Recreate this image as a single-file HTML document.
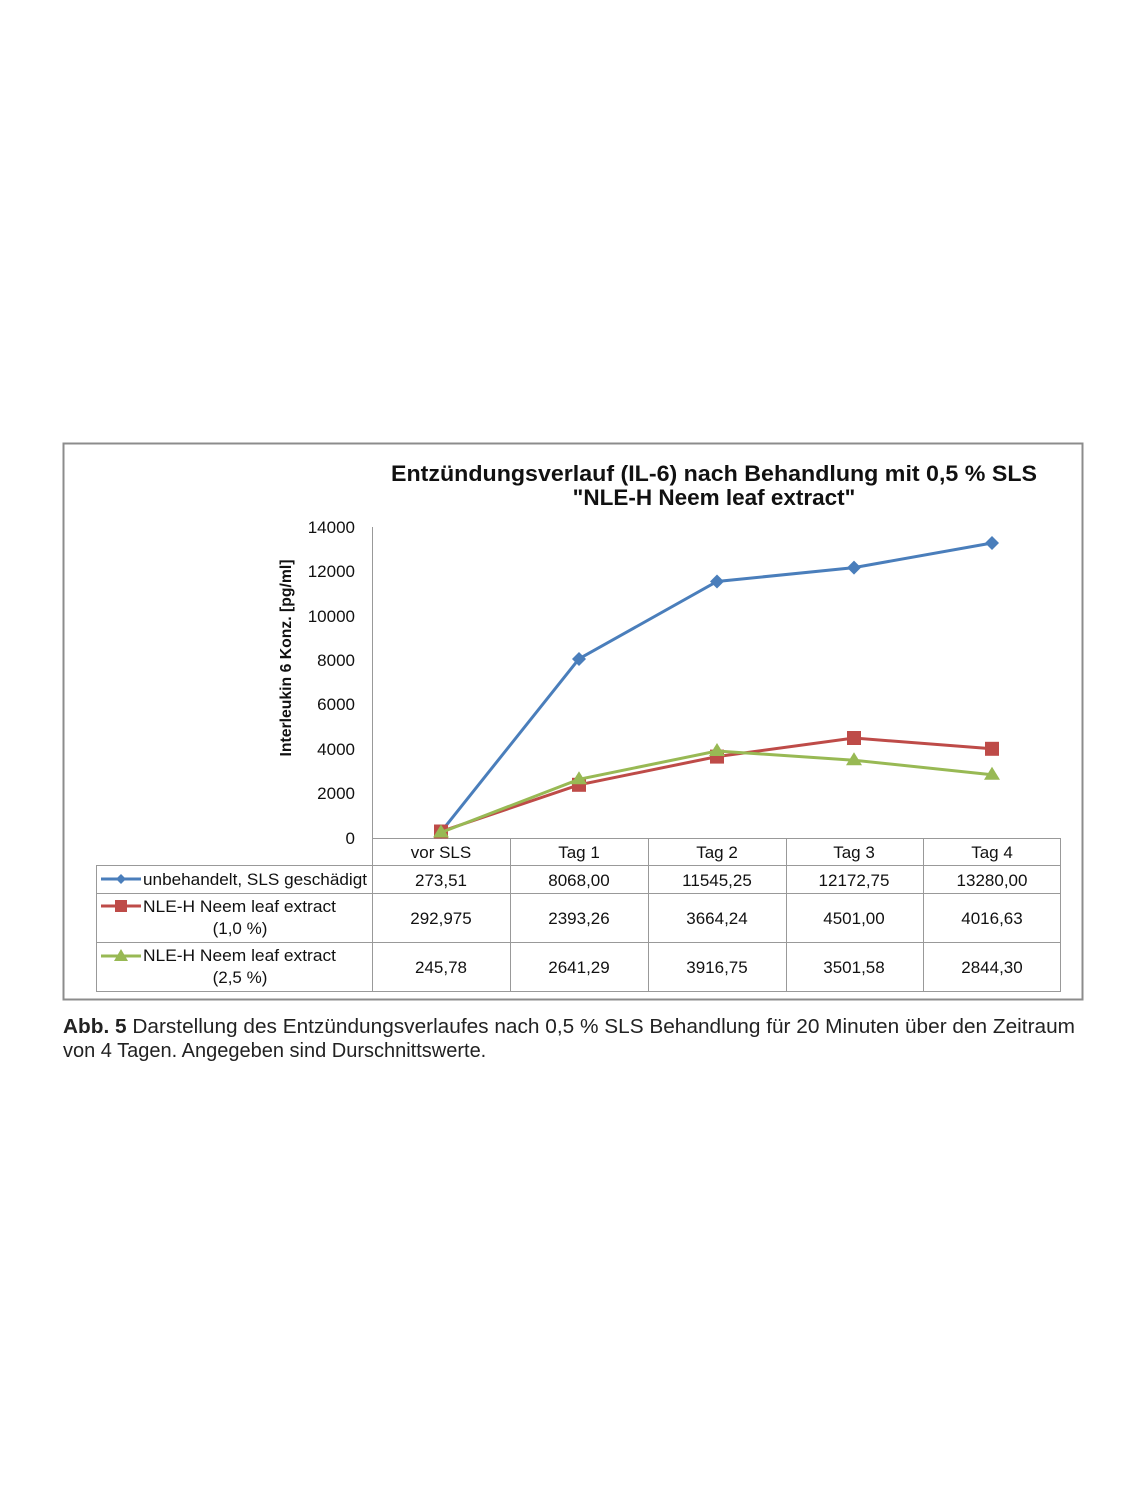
<!DOCTYPE html>
<html><head><meta charset="utf-8"><style>html,body{margin:0;padding:0;background:#fff}svg{display:block}</style></head>
<body>
<svg width="1146" height="1500" viewBox="0 0 1146 1500" xmlns="http://www.w3.org/2000/svg" font-family="Liberation Sans, sans-serif">
<rect x="0" y="0" width="1146" height="1500" fill="#fff"/>
<rect x="63.5" y="443.5" width="1019" height="556" fill="#fff" stroke="#8c8c8c" stroke-width="2"/>
<text x="714" y="481" font-size="22" font-weight="bold" text-anchor="middle" fill="#111" textLength="646" lengthAdjust="spacingAndGlyphs">Entzündungsverlauf (IL-6) nach Behandlung mit 0,5 % SLS</text>
<text x="714" y="505" font-size="22.5" font-weight="bold" text-anchor="middle" fill="#111">"NLE-H Neem leaf extract"</text>
<text transform="translate(291,658) rotate(-90)" font-size="16" font-weight="bold" text-anchor="middle" fill="#111" textLength="197" lengthAdjust="spacingAndGlyphs">Interleukin 6 Konz. [pg/ml]</text>
<g font-size="17" text-anchor="end" fill="#111">
<text x="355" y="533">14000</text><text x="355" y="577">12000</text><text x="355" y="622">10000</text>
<text x="355" y="666">8000</text><text x="355" y="710">6000</text><text x="355" y="755">4000</text>
<text x="355" y="799">2000</text><text x="355" y="844">0</text>
</g>
<line x1="372.5" y1="527" x2="372.5" y2="991" stroke="#999" stroke-width="1"/>
<g stroke="#999" stroke-width="1" fill="none">
<line x1="372" y1="838.5" x2="1061" y2="838.5"/>
<line x1="96" y1="865.5" x2="1061" y2="865.5"/>
<line x1="96" y1="893.5" x2="1061" y2="893.5"/>
<line x1="96" y1="942.5" x2="1061" y2="942.5"/>
<line x1="96" y1="991.5" x2="1061" y2="991.5"/>
<line x1="96.5" y1="865" x2="96.5" y2="991"/>
<line x1="510.5" y1="838" x2="510.5" y2="991"/>
<line x1="648.5" y1="838" x2="648.5" y2="991"/>
<line x1="786.5" y1="838" x2="786.5" y2="991"/>
<line x1="923.5" y1="838" x2="923.5" y2="991"/>
<line x1="1060.5" y1="838" x2="1060.5" y2="991"/>
</g>
<g font-size="17" text-anchor="middle" fill="#111">
<text x="441" y="858">vor SLS</text><text x="579" y="858">Tag 1</text><text x="717" y="858">Tag 2</text><text x="854" y="858">Tag 3</text><text x="992" y="858">Tag 4</text>
<text x="441" y="886">273,51</text><text x="579" y="886">8068,00</text><text x="717" y="886">11545,25</text><text x="854" y="886">12172,75</text><text x="992" y="886">13280,00</text>
<text x="441" y="924">292,975</text><text x="579" y="924">2393,26</text><text x="717" y="924">3664,24</text><text x="854" y="924">4501,00</text><text x="992" y="924">4016,63</text>
<text x="441" y="973">245,78</text><text x="579" y="973">2641,29</text><text x="717" y="973">3916,75</text><text x="854" y="973">3501,58</text><text x="992" y="973">2844,30</text>
<text x="240" y="934">(1,0 %)</text><text x="240" y="983">(2,5 %)</text>
</g>
<g font-size="17" fill="#111">
<text x="143" y="885" textLength="224" lengthAdjust="spacingAndGlyphs">unbehandelt, SLS geschädigt</text>
<text x="143" y="912" textLength="193" lengthAdjust="spacingAndGlyphs">NLE-H Neem leaf extract</text>
<text x="143" y="961" textLength="193" lengthAdjust="spacingAndGlyphs">NLE-H Neem leaf extract</text>
</g>
<line x1="101" y1="879" x2="141" y2="879" stroke="#4a7ebb" stroke-width="3"/>
<path d="M121 874l5 5-5 5-5-5z" fill="#4a7ebb"/>
<line x1="101" y1="906" x2="141" y2="906" stroke="#be4b48" stroke-width="3"/>
<rect x="115" y="900" width="12" height="12" fill="#be4b48"/>
<line x1="101" y1="956" x2="141" y2="956" stroke="#98b954" stroke-width="3"/>
<path d="M121 949l7 12h-14z" fill="#98b954"/>
<polyline points="441,831.9 579,658.8 717,581.5 854,567.6 992,543" fill="none" stroke="#4a7ebb" stroke-width="3"/>
<g fill="#4a7ebb">
<path d="M441 825l7 7-7 7-7-7z"/><path d="M579 652l7 7-7 7-7-7z"/><path d="M717 574.5l7 7-7 7-7-7z"/><path d="M854 560.6l7 7-7 7-7-7z"/><path d="M992 536l7 7-7 7-7-7z"/>
</g>
<polyline points="441,831.5 579,784.8 717,756.6 854,738 992,748.8" fill="none" stroke="#be4b48" stroke-width="3"/>
<g fill="#be4b48">
<rect x="434" y="824.5" width="14" height="14"/><rect x="572" y="777.8" width="14" height="14"/><rect x="710" y="749.6" width="14" height="14"/><rect x="847" y="731" width="14" height="14"/><rect x="985" y="741.8" width="14" height="14"/>
</g>
<polyline points="441,832.5 579,779.3 717,751 854,760.2 992,774.8" fill="none" stroke="#98b954" stroke-width="3"/>
<g fill="#98b954">
<path d="M441 824.5l8 13h-16z"/><path d="M579 771.3l8 13h-16z"/><path d="M717 743l8 13h-16z"/><path d="M854 752.2l8 13h-16z"/><path d="M992 766.8l8 13h-16z"/>
</g>
<g font-size="20" fill="#222">
<text x="63" y="1033" textLength="1012" lengthAdjust="spacingAndGlyphs"><tspan font-weight="bold">Abb. 5</tspan> Darstellung des Entzündungsverlaufes nach 0,5 % SLS Behandlung für 20 Minuten über den Zeitraum</text>
<text x="63" y="1057">von 4 Tagen. Angegeben sind Durschnittswerte.</text>
</g>
</svg>
</body></html>
